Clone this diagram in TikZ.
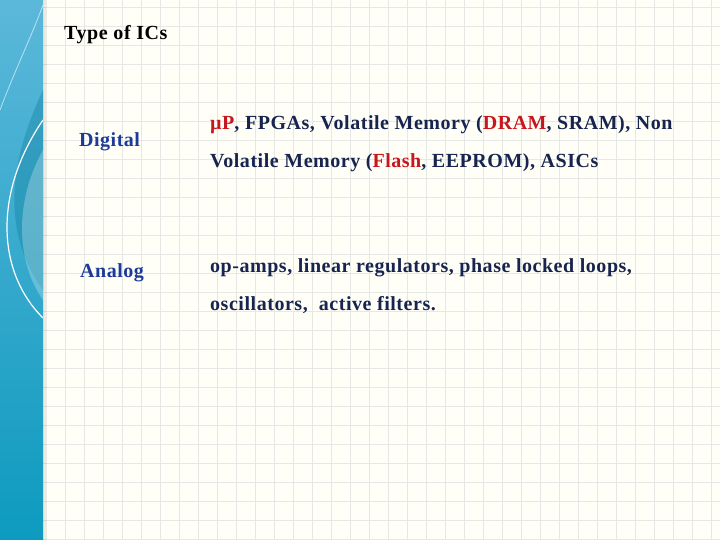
\documentclass[tikz,border=0pt]{standalone}
\usepackage{fontspec}
\setmainfont{Liberation Serif}
\begin{document}
\begin{tikzpicture}[x=1pt,y=-1pt,
  body/.style={anchor=base west,inner sep=0pt,text=navy,font=\bfseries\fontsize{20}{22}\selectfont\addfontfeature{LetterSpace=2.7}},
  cat/.style={anchor=base west,inner sep=0pt,text=catblue,font=\bfseries\fontsize{20}{22}\selectfont\addfontfeature{LetterSpace=2.5}}]
\definecolor{navy}{HTML}{16244F}
\definecolor{catblue}{HTML}{1D3A99}
\definecolor{red1}{HTML}{C8161E}
\definecolor{gridc}{HTML}{E6E8E6}
\definecolor{bar1}{HTML}{0E9ABF}
\definecolor{bar2}{HTML}{5CB8DA}
\useasboundingbox (0,0) rectangle (720,540);
\fill[white!97!yellow] (0,0) rectangle (720,540);
\foreach \x in {65,84,...,720} \draw[gridc,line width=0.8] (\x,0)--(\x,540);
\foreach \y in {7,26,...,540} \draw[gridc,line width=0.8] (43,\y)--(720,\y);
% left bar
\shade[top color=bar2,bottom color=bar1] (0,0) rectangle (43,540);
\fill[bar1!80!black,opacity=0.35] (43,90) .. controls (10,160) and (0,230) .. (43,290) -- (43,90);
\fill[white,opacity=0.25] (43,150) .. controls (15,200) and (15,260) .. (43,300) -- cycle;
\draw[white,line width=1.2] (43,120) .. controls (-5,190) and (-5,270) .. (43,318);
\draw[white,opacity=0.6,line width=0.8] (43,5) .. controls (30,40) and (15,70) .. (0,110);
\fill[black,opacity=0.08] (43,0) rectangle (47,540);
% text
\node[anchor=base west,inner sep=0pt,font=\bfseries\fontsize{20}{22}\selectfont\addfontfeature{LetterSpace=3}] (title) at (64,40) {Type of ICs};
\node[cat] (dig) at (79,147) {Digital};
\node[cat] (ana) at (80,277) {Analog};
\node[body] (l1) at (210,130) {\textcolor{red1}{µP}, FPGAs, Volatile Memory (\textcolor{red1}{DRAM}, SRAM), Non};
\node[body] (l2) at (210,168) {Volatile Memory (\textcolor{red1}{Flash}, EEPROM), ASICs};
\node[body] (l3) at (210,272) {op-amps, linear regulators, phase locked loops,};
\node[body] (l4) at (210,310) {oscillators,\ \ active filters.};
\end{tikzpicture}
\end{document}
